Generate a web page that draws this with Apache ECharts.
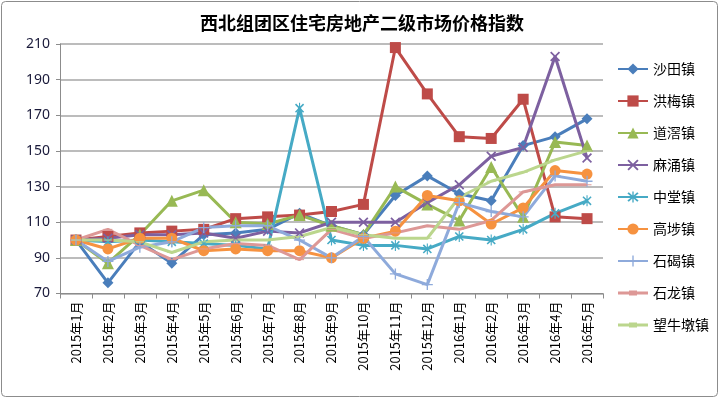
<!DOCTYPE html>
<html><head><meta charset="utf-8">
<script src="https://cdn.jsdelivr.net/npm/echarts@6/dist/echarts.min.js"></script>
<style>html,body{margin:0;padding:0;background:#fff}#c{width:720px;height:399px}</style>
</head><body><div id="c"></div>
<script>
const categories = ['2015年1月','2015年2月','2015年3月','2015年4月','2015年5月','2015年6月','2015年7月','2015年8月','2015年9月','2015年10月','2015年11月','2015年12月','2016年1月','2016年2月','2016年3月','2016年4月','2016年5月'];
const shatian   = [100, 76, 99, 87, 103, 104, 106, 115, 108, 103, 125, 136, 126, 122, 153, 158, 168];
const hongmei   = [100, 102, 104, 105, 106, 112, 113, 114, 116, 120, 208, 182, 158, 157, 179, 113, 112];
const daojiao   = [100, 87, 103, 122, 128, 110, 109, 114, 108, 103, 130, 120, 111, 141, 113, 155, 153];
const mayong    = [100, 101, 103, 103, 104, 101, 105, 104, 110, 110, 110, 121, 131, 147, 152, 203, 146];
const zhongtang = [100, 99, 100, 99, 98, 97, 95, 174, 100, 97, 97, 95, 102, 100, 106, 115, 122];
const gaobu     = [100, 95, 101, 101, 94, 95, 94, 94, 90, 101, 105, 125, 122, 109, 118, 139, 137];
const shijie    = [100, 88, 96, 99, 107, 108, 108, 100, 90, 102, 81, 75, 121, 116, 113, 136, 133];
const shilong   = [100, 106, 97, 89, 95, 98, 97, 89, 106, 101, 104, 108, 106, 111, 127, 131, 131];
const wangniudun= [100, 100, 99, 93, 99, 100, 100, 102, 107, 103, 101, 101, 124, 133, 138, 145, 150];
const seriesNames = ['沙田镇','洪梅镇','道滘镇','麻涌镇','中堂镇','高埗镇','石碣镇','石龙镇','望牛墩镇'];
const yTicks = {min:70, max:210, interval:20};

const X = 'path://M0,1.2 L1.2,0 L5,3.8 L8.8,0 L10,1.2 L6.2,5 L10,8.8 L8.8,10 L5,6.2 L1.2,10 L0,8.8 L3.8,5 Z';
const AST = 'path://M0,1.2 L1.2,0 L5,3.8 L8.8,0 L10,1.2 L6.2,5 L10,8.8 L8.8,10 L5,6.2 L1.2,10 L0,8.8 L3.8,5 Z M4.4,-1 L5.6,-1 L5.6,11 L4.4,11 Z';
const PLUS = 'path://M4.4,0 H5.6 V4.4 H10 V5.6 H5.6 V10 H4.4 V5.6 H0 V4.4 H4.4 Z';
const DASH = 'path://M0,0 H10 V3.3 H0 Z';
const DASH_LEGEND = 'path://M0,1 H11 V0 H19 V1 H30 V4 H19 V5 H11 V4 H0 Z';

const styles = [
  {c:'#4A7EBB', s:'diamond', z:11},
  {c:'#BE4B48', s:'rect', z:11},
  {c:'#98B954', s:'triangle', z:12},
  {c:'#7D60A0', s:X, z:10},
  {c:'#46AAC5', s:AST, z:11},
  {c:'#F69240', s:'circle', z:11},
  {c:'#8EAADB', s:PLUS, z:11},
  {c:'#DD9896', s:DASH, z:[9,3], legendIcon:DASH_LEGEND},
  {c:'#BBD68D', s:DASH, z:[9,3], legendIcon:DASH_LEGEND}
];
const data = [shatian,hongmei,daojiao,mayong,zhongtang,gaobu,shijie,shilong,wangniudun];

const chart = echarts.init(document.getElementById('c'), null, {renderer:'canvas'});
chart.setOption({
  animation:false,
  backgroundColor:'#fff',
  title:{text:'西北组团区住宅房地产二级市场价格指数', left:357, textAlign:'center', top:9,
    textStyle:{fontFamily:'Noto Sans CJK SC', fontSize:18, fontWeight:'bold', color:'#000'}},
  graphic:[{type:'rect', shape:{x:1.5,y:1.5,width:716,height:395,r:4}, style:{fill:'none', stroke:'#8c8c8c', lineWidth:1}, silent:true}],
  legend:{orient:'vertical', left:612, top:57, itemWidth:30, itemHeight:14, itemGap:18,
    symbolKeepAspect:true,
    data:seriesNames.map((n,i)=> styles[i].legendIcon ? {name:n, icon:styles[i].legendIcon} : {name:n}),
    textStyle:{fontFamily:'Noto Sans CJK SC', fontSize:14, color:'#000'}},
  grid:{left:60, top:44, right:117, bottom:105.5, containLabel:false},
  xAxis:{type:'category', data:categories, boundaryGap:true,
    axisLine:{lineStyle:{color:'#8c8c8c', width:1}},
    axisTick:{show:true, length:5, lineStyle:{color:'#8c8c8c'}},
    axisLabel:{rotate:90, interval:0, margin:8, fontFamily:'Noto Sans CJK SC', fontSize:13, color:'#000'}},
  yAxis:{type:'value', min:yTicks.min, max:yTicks.max, interval:yTicks.interval,
    axisLine:{show:true, lineStyle:{color:'#8c8c8c'}},
    axisTick:{show:true, length:4, inside:false, lineStyle:{color:'#8c8c8c'}},
    axisLabel:{margin:10, fontFamily:'Noto Sans', fontSize:14, color:'#1a1a3a'},
    splitLine:{lineStyle:{color:'#a6a6a6', width:1.5}}},
  series: seriesNames.map((n,i)=>({
    name:n, type:'line', data:data[i],
    symbol:styles[i].s, symbolSize:styles[i].z, symbolKeepAspect:true, showAllSymbol:true,
    lineStyle:{color:styles[i].c, width:3},
    itemStyle:{color:styles[i].c},
    color:styles[i].c
  }))
});
</script></body></html>
